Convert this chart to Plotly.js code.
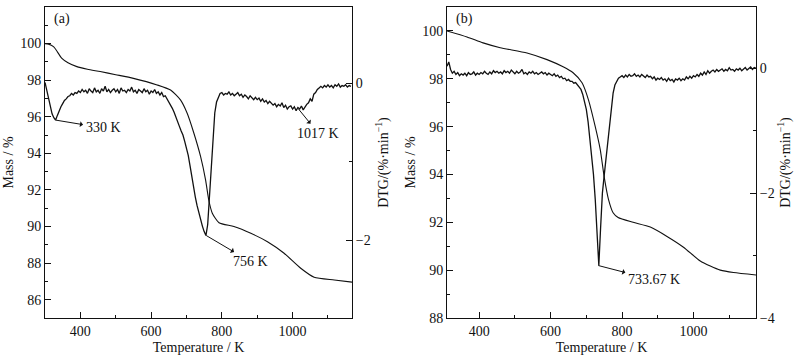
<!DOCTYPE html>
<html>
<head>
<meta charset="utf-8">
<script src="https://cdn.plot.ly/plotly-3.0.1.min.js"></script>
<style>html,body{margin:0;padding:0;background:#fff;}#chart{width:800px;height:358px;}</style>
</head>
<body>
<div id="chart"></div>
<script>
// ---------- Panel (a) ----------
const tempMassA = [300, 310, 324, 335, 347, 365, 390, 420, 456, 500, 550, 617, 655, 683, 702, 721, 740, 754, 763, 773, 792, 834, 882, 929, 976, 1023, 1061, 1118, 1168];
const massA     = [100.0, 99.97, 99.83, 99.55, 99.2, 98.95, 98.74, 98.6, 98.47, 98.3, 98.1, 97.74, 97.46, 96.92, 96.19, 95.1, 93.82, 92.55, 91.45, 90.73, 90.21, 90.0, 89.63, 89.17, 88.54, 87.72, 87.23, 87.08, 86.96];

const dtgAStart = 300, dtgAStep = 5;
const dtgA = [
  0.01, -0.10, -0.21, -0.31, -0.39, -0.44, -0.47, -0.41, -0.35, -0.30,
  -0.26, -0.22, -0.20, -0.17, -0.16, -0.13, -0.15, -0.12, -0.13, -0.10,
  -0.12, -0.08, -0.11, -0.09, -0.13, -0.07, -0.10, -0.12, -0.06, -0.11,
  -0.09, -0.13, -0.07, -0.10, -0.04, -0.11, -0.08, -0.12, -0.09, -0.07,
  -0.11, -0.08, -0.13, -0.06, -0.10, -0.09, -0.12, -0.08, -0.10, -0.05,
  -0.11, -0.09, -0.13, -0.08, -0.10, -0.12, -0.07, -0.11, -0.09, -0.14,
  -0.10, -0.12, -0.08, -0.13, -0.11, -0.15, -0.12, -0.17, -0.16, -0.20,
  -0.23, -0.27, -0.32, -0.37, -0.44, -0.49, -0.55, -0.61, -0.66, -0.74,
  -0.82, -0.92, -1.05, -1.20, -1.34, -1.45, -1.56, -1.65, -1.75, -1.82,
  -1.89, -1.94, -1.80, -1.45, -1.00, -0.62, -0.38, -0.24, -0.17, -0.13,
  -0.12, -0.15, -0.13, -0.14, -0.11, -0.15, -0.13, -0.16, -0.14, -0.12,
  -0.16, -0.14, -0.18, -0.15, -0.17, -0.20, -0.16, -0.19, -0.21, -0.18,
  -0.21, -0.19, -0.23, -0.20, -0.24, -0.22, -0.26, -0.23, -0.25, -0.28,
  -0.26, -0.30, -0.27, -0.29, -0.25, -0.31, -0.28, -0.33, -0.30, -0.29,
  -0.33, -0.30, -0.35, -0.31, -0.33, -0.29, -0.34, -0.30, -0.27, -0.25,
  -0.20, -0.23, -0.14, -0.12, -0.08, -0.06, -0.04, -0.06, -0.03, -0.05,
  -0.02, -0.05, -0.03, -0.06, -0.02, -0.04, -0.01, -0.05, -0.03, -0.04,
  -0.02, -0.05, -0.03, -0.04
];

// ---------- Panel (b) ----------
const tempMassB = [310, 366, 411, 459, 534, 590, 635, 663, 688, 706, 725, 739, 750, 762, 775, 789, 831, 879, 927, 972, 1019, 1047, 1075, 1112, 1175];
const massB     = [100.0, 99.75, 99.5, 99.3, 99.08, 98.8, 98.5, 98.25, 97.83, 97.12, 96.0, 95.04, 93.9, 92.96, 92.4, 92.2, 92.0, 91.8, 91.4, 90.96, 90.38, 90.17, 90.0, 89.9, 89.8];

const dtgBStart = 310, dtgBStep = 5;
const dtgB = [
  0.03, 0.10, -0.02, -0.08, -0.05, -0.10, -0.07, -0.12, -0.09, -0.11,
  -0.08, -0.12, -0.07, -0.10, -0.09, -0.06, -0.11, -0.08, -0.10, -0.07,
  -0.09, -0.05, -0.08, -0.10, -0.06, -0.09, -0.04, -0.07, -0.05, -0.08,
  -0.06, -0.09, -0.04, -0.07, -0.05, -0.08, -0.03, -0.07, -0.09, -0.05,
  -0.08, -0.06, -0.02, -0.09, -0.07, -0.10, -0.06, -0.08, -0.05, -0.09,
  -0.07, -0.10, -0.08, -0.06, -0.09, -0.07, -0.11, -0.08, -0.10, -0.12,
  -0.09, -0.13, -0.11, -0.15, -0.13, -0.17, -0.16, -0.20, -0.18, -0.21,
  -0.21, -0.24, -0.23, -0.27, -0.30, -0.34, -0.42, -0.52, -0.66, -0.86,
  -1.12, -1.42, -1.70, -2.10, -2.65, -3.16, -2.55, -2.00, -1.72, -1.45,
  -1.20, -0.90, -0.62, -0.40, -0.27, -0.20, -0.16, -0.14, -0.12, -0.15,
  -0.11, -0.14, -0.10, -0.13, -0.12, -0.09, -0.13, -0.11, -0.14, -0.10,
  -0.12, -0.15, -0.11, -0.14, -0.13, -0.17, -0.14, -0.19, -0.16, -0.18,
  -0.15, -0.19, -0.17, -0.21, -0.16, -0.20, -0.18, -0.22, -0.17, -0.19,
  -0.16, -0.20, -0.17, -0.19, -0.14, -0.17, -0.13, -0.16, -0.12, -0.14,
  -0.10, -0.13, -0.08, -0.11, -0.06, -0.10, -0.04, -0.08, -0.05, -0.03,
  -0.06, -0.02, -0.05, -0.03, -0.01, -0.05, -0.02, -0.04, 0.01, -0.03,
  -0.02, -0.05, -0.01, -0.03, 0.00, -0.04, -0.02, 0.01, -0.03, -0.01,
  0.02, -0.02, 0.01, 0.00
];

// Tick / label texts
const panelLabels = ['(a)', '(b)'];
const peakLabelsA = [330, 756, 1017];
const peakLabelsB = [733.67];
const xTitle = 'Temperature / K';
const massTitle = 'Mass / %';
const dtgTitle = 'DTG/(%·min<sup>−1</sup>)';

// temperature grid for the DTG recordings
function grid(start, step, n) { const a = []; for (let i = 0; i < n; i++) a.push(start + i * step); return a; }
const tempDtgA = grid(dtgAStart, dtgAStep, dtgA.length);
const tempDtgB = grid(dtgBStart, dtgBStep, dtgB.length);

// lowest value of a series within +-6 K of temperature t
function valueAt(ts, vs, t) {
  let best = Infinity;
  for (let i = 0; i < ts.length; i++) if (Math.abs(ts[i] - t) <= 6 && vs[i] < best) best = vs[i];
  return best;
}

const FONT = '"Liberation Serif", "Times New Roman", serif';
const INK = '#111';
const W = 800, H = 358;
const xDomA = [45 / W, 352 / W], xDomB = [447 / W, 756 / W];
const yDom = [40 / H, 351 / H];

const traces = [
  {x: tempMassA, y: massA, xaxis: 'x', yaxis: 'y', mode: 'lines', line: {color: INK, width: 1.1, shape: 'spline', smoothing: 0.6}, hoverinfo: 'skip'},
  {x: tempDtgA, y: dtgA, xaxis: 'x', yaxis: 'y2', mode: 'lines', line: {color: INK, width: 1.3}, hoverinfo: 'skip'},
  {x: tempMassB, y: massB, xaxis: 'x2', yaxis: 'y3', mode: 'lines', line: {color: INK, width: 1.1, shape: 'spline', smoothing: 0.6}, hoverinfo: 'skip'},
  {x: tempDtgB, y: dtgB, xaxis: 'x2', yaxis: 'y4', mode: 'lines', line: {color: INK, width: 1.3}, hoverinfo: 'skip'}
];

const tickFont = {family: FONT, size: 14, color: INK};
const titleFont = {family: FONT, size: 14, color: INK};
const common = {
  showline: true, linecolor: INK, linewidth: 1, ticks: 'inside', ticklen: 6, tickcolor: INK,
  showgrid: false, zeroline: false, tickfont: tickFont, fixedrange: true
};
function minor(d) { return {dtick: d, ticks: 'inside', ticklen: 3, tickcolor: INK, showgrid: false}; }

const layout = {
  width: W, height: H, margin: {l: 0, r: 0, t: 0, b: 0},
  paper_bgcolor: '#fff', plot_bgcolor: '#fff', showlegend: false,
  font: {family: FONT, size: 14, color: INK},
  xaxis: Object.assign({}, common, {domain: xDomA, anchor: 'y', range: [300, 1168], tick0: 0, dtick: 200, minor: minor(100), mirror: true,
    title: {text: xTitle, font: titleFont, standoff: 4}}),
  yaxis: Object.assign({}, common, {domain: yDom, anchor: 'x', range: [85, 102], tick0: 0, dtick: 2, minor: minor(1),
    title: {text: massTitle, font: titleFont, standoff: 3}}),
  yaxis2: Object.assign({}, common, {overlaying: 'y', side: 'right', anchor: 'x', range: [-2.99, 0.97], tick0: 0, dtick: 2, minor: minor(1),
    title: {text: dtgTitle, font: titleFont, standoff: 8}}),
  xaxis2: Object.assign({}, common, {domain: xDomB, anchor: 'y3', range: [310, 1175], tick0: 0, dtick: 200, minor: minor(100), mirror: true,
    title: {text: xTitle, font: titleFont, standoff: 4}}),
  yaxis3: Object.assign({}, common, {domain: yDom, anchor: 'x2', range: [88, 101], tick0: 0, dtick: 2, minor: minor(1),
    title: {text: massTitle, font: titleFont, standoff: 3}}),
  yaxis4: Object.assign({}, common, {overlaying: 'y3', side: 'right', anchor: 'x2', range: [-4, 0.98], tick0: 0, dtick: 2, minor: minor(1),
    title: {text: dtgTitle, font: titleFont, standoff: 6}}),
  annotations: []
};

// panel letters
layout.annotations.push({text: panelLabels[0], xref: 'paper', yref: 'paper', x: 52 / W, y: 1 - 19 / H, xanchor: 'left', yanchor: 'middle', showarrow: false, font: tickFont});
layout.annotations.push({text: panelLabels[1], xref: 'paper', yref: 'paper', x: 454 / W, y: 1 - 19 / H, xanchor: 'left', yanchor: 'middle', showarrow: false, font: tickFont});

// peak callouts: arrow starts at the curve, arrowhead at the label
function callout(xa, ya, ts, vs, t, textPos) {
  const v = valueAt(ts, vs, t);
  layout.annotations.push({text: t + ' K', x: t, y: v, xref: xa, yref: ya, ax: textPos[0], ay: textPos[1], axref: xa, ayref: ya,
    showarrow: true, arrowside: 'start', arrowhead: 2, arrowsize: 1, arrowwidth: 1, arrowcolor: INK,
    standoff: 0, startstandoff: 1, borderpad: 1, font: tickFont});
}
callout('x', 'y2', tempDtgA, dtgA, peakLabelsA[0], [464, -0.57]);
callout('x', 'y2', tempDtgA, dtgA, peakLabelsA[1], [880, -2.27]);
callout('x', 'y2', tempDtgA, dtgA, peakLabelsA[2], [1073, -0.64]);
callout('x2', 'y4', tempDtgB, dtgB, peakLabelsB[0], [889, -3.39]);

Plotly.newPlot('chart', traces, layout, {staticPlot: true, displayModeBar: false});
</script>
</body>
</html>
